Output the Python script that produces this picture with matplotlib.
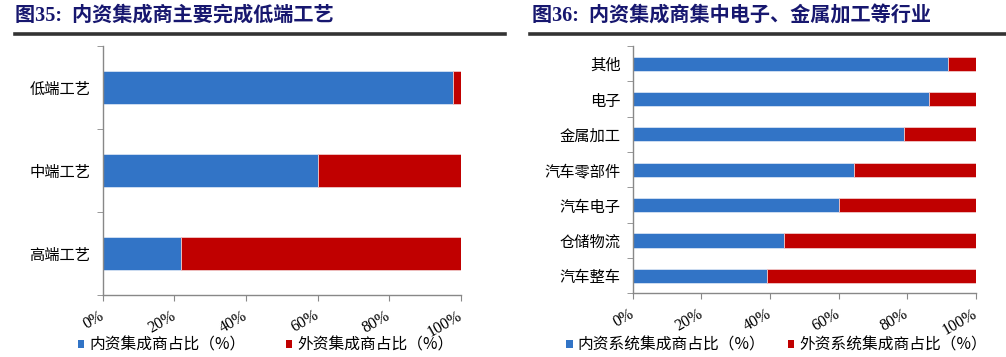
import numpy as np
import matplotlib.pyplot as plt
from matplotlib.patches import Patch
from matplotlib.lines import Line2D

plt.rcParams['font.family'] = ['Liberation Serif', 'Noto Sans CJK SC']

################################## DATA ##################################

left_title = '图35:  内资集成商主要完成低端工艺'
left_cats = ['低端工艺', '中端工艺', '高端工艺']
left_domestic = [97.8, 60, 22]
left_names = ['内资集成商占比（%）', '外资集成商占比（%）']

right_title = '图36:  内资集成商集中电子、金属加工等行业'
right_cats = ['其他', '电子', '金属加工', '汽车零部件', '汽车电子', '仓储物流', '汽车整车']
right_domestic = [92, 86.3, 79, 64.4, 60.2, 44, 39]
right_names = ['内资系统集成商占比（%）', '外资系统集成商占比（%）']

xticks = [0, 20, 40, 60, 80, 100]
xlabels = ['0%', '20%', '40%', '60%', '80%', '100%']

BLUE = '#3274C6'
RED = '#C00000'
NAVY = '#17176F'
CJK = ['Noto Sans CJK SC', 'DejaVu Sans']

################################## PLOT ##################################

fig = plt.figure(figsize=(10.06, 3.57), dpi=100)


def draw(rect, cats, domestic, names, title, title_x, line_x, leg_x, colsp):
    ax = fig.add_axes(rect)
    dom = np.array(domestic, dtype=float)
    foreign = 100 - dom
    y = np.arange(len(cats))
    ax.barh(y, dom, height=0.4, color=BLUE, edgecolor='#D6E2F3', linewidth=0.6)
    ax.barh(y, foreign, left=dom, height=0.4, color=RED, edgecolor='#F0C8C8', linewidth=0.6)
    ax.set_xlim(0, 100)
    ax.set_ylim(len(cats) - 0.5, -0.5)
    ax.set_yticks(y)
    ax.set_yticklabels(cats, family=CJK, fontsize=11)
    ax.set_yticks(np.arange(len(cats) + 1) - 0.5, minor=True)
    ax.tick_params(axis='y', which='major', length=0, pad=9)
    ax.tick_params(axis='y', which='minor', length=4, color='#888888', direction='out')
    ax.set_xticks(xticks)
    ax.set_xticklabels(xlabels, rotation=30, fontsize=11.5, ha='right', va='center',
                       rotation_mode='anchor')
    ax.tick_params(axis='x', length=4, color='#888888', pad=10)
    for s in ['top', 'right']:
        ax.spines[s].set_visible(False)
    for s in ['left', 'bottom']:
        ax.spines[s].set_color('#888888')
        ax.spines[s].set_linewidth(1.0)

    fig.text(title_x, 0.955, title, fontsize=14.5, fontweight='bold', color=NAVY,
             ha='left', va='center')
    fig.add_artist(Line2D(line_x, [0.906, 0.906], color='#333333', linewidth=2.6))

    handles = [Patch(facecolor=BLUE), Patch(facecolor=RED)]
    fig.legend(handles, names, loc='center', bbox_to_anchor=(leg_x, 0.034), ncol=2,
               frameon=False, prop={'family': CJK, 'size': 11.3},
               handlelength=0.4, handleheight=0.4, handletextpad=0.32,
               columnspacing=colsp, borderpad=0)
    return ax


draw([0.1021, 0.1737, 0.3559, 0.697], left_cats, left_domestic, left_names,
     left_title, 0.015, [0.015, 0.502], 0.264, 2.6)
draw([0.6292, 0.178, 0.3405, 0.693], right_cats, right_domestic, right_names,
     right_title, 0.529, [0.527, 1.0], 0.772, 1.43)

plt.savefig('out.png', dpi=100)
